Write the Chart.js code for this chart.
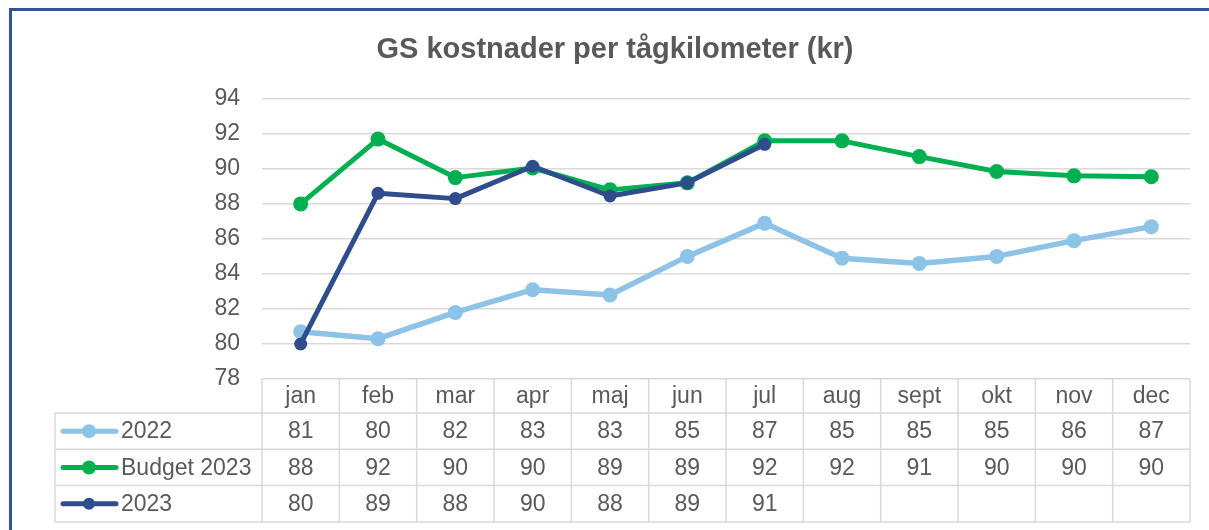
<!DOCTYPE html>
<html lang="sv">
<head>
    <meta charset="UTF-8">
    <title>GS kostnader per tågkilometer</title>
    <style>
        html, body {
            margin: 0;
            padding: 0;
            background: white;
            overflow: hidden;
        }
        #frame {
            position: absolute;
            left: 9px;
            top: 8px;
            width: 1400px;
            height: 700px;
            border: 3px solid #2F5597;
        }
        #wrap {
            position: absolute;
            left: 0;
            top: 0;
            width: 1209px;
            height: 530px;
        }
    </style>
    <script src="https://cdn.jsdelivr.net/npm/chart.js"></script>
</head>
<body>
    <div id="frame"></div>
    <div id="wrap"><canvas id="chart"></canvas></div>
    <script>
        var months = ['jan', 'feb', 'mar', 'apr', 'maj', 'jun', 'jul', 'aug', 'sept', 'okt', 'nov', 'dec'];
        var values2022 = [80.7, 80.3, 81.8, 83.1, 82.8, 85.0, 86.9, 84.9, 84.6, 85.0, 85.9, 86.7];
        var budget2023 = [88.0, 91.7, 89.5, 90.05, 88.8, 89.2, 91.6, 91.6, 90.7, 89.85, 89.6, 89.55];
        var values2023 = [80.0, 88.6, 88.3, 90.15, 88.45, 89.2, 91.4, null, null, null, null, null];
        var yTicks = [78, 80, 82, 84, 86, 88, 90, 92, 94];

        var textColor = '#595959';
        var lineColor = '#D9D9D9';
        var fontFamily = '"Liberation Sans", Arial, sans-serif';

        var series = [
            { label: '2022', data: values2022, color: '#8DC3E7', radius: 7.5, width: 5.5, order: 2 },
            { label: 'Budget 2023', data: budget2023, color: '#00B050', radius: 7.5, width: 5, order: 1 },
            { label: '2023', data: values2023, color: '#2F4D8C', radius: 6.5, width: 5, order: 0 }
        ];

        // data table under the plot, columns follow the x scale
        var dataTable = {
            id: 'dataTable',
            afterDraw: function(chart) {
                var ctx = chart.ctx;
                var x = chart.scales.x;
                var area = chart.chartArea;
                var colW = x.getPixelForValue(1) - x.getPixelForValue(0);
                var legendLeft = 55;
                var top = area.bottom;
                var headH = 34;
                var rowH = 36.3;
                var bottom = top + headH + rowH * series.length;

                ctx.save();
                ctx.strokeStyle = lineColor;
                ctx.lineWidth = 1.5;
                ctx.beginPath();
                // vertical lines of month columns
                for (var i = 0; i <= months.length; i++) {
                    var vx = area.left + i * colW;
                    ctx.moveTo(vx, top);
                    ctx.lineTo(vx, bottom);
                }
                ctx.moveTo(legendLeft, top + headH);
                ctx.lineTo(legendLeft, bottom);
                // horizontal lines
                for (var r = 0; r <= series.length; r++) {
                    var hy = top + headH + r * rowH;
                    ctx.moveTo(legendLeft, hy);
                    ctx.lineTo(area.right, hy);
                }
                ctx.stroke();

                ctx.fillStyle = textColor;
                ctx.font = '23px ' + fontFamily;
                ctx.textAlign = 'center';
                ctx.textBaseline = 'middle';
                months.forEach(function(m, i) {
                    ctx.fillText(m, x.getPixelForValue(i), top + headH / 2 + 1);
                });

                series.forEach(function(s, r) {
                    var cy = top + headH + r * rowH + rowH / 2 + 1;
                    ctx.textAlign = 'center';
                    ctx.fillStyle = textColor;
                    s.data.forEach(function(v, i) {
                        if (v === null) return;
                        ctx.fillText(Math.round(v), x.getPixelForValue(i), cy);
                    });
                    // legend key
                    ctx.strokeStyle = s.color;
                    ctx.lineWidth = 5;
                    ctx.lineCap = 'round';
                    ctx.beginPath();
                    ctx.moveTo(63, cy - 1);
                    ctx.lineTo(116, cy - 1);
                    ctx.stroke();
                    ctx.fillStyle = s.color;
                    ctx.beginPath();
                    ctx.arc(89, cy - 1, s.radius - 0.5, 0, Math.PI * 2);
                    ctx.fill();
                    ctx.fillStyle = textColor;
                    ctx.textAlign = 'left';
                    ctx.fillText(s.label, 121, cy);
                });
                ctx.restore();
            }
        };

        var chart = new Chart(document.getElementById('chart'), {
            type: 'line',
            data: {
                labels: months,
                datasets: series.map(function(s) {
                    return {
                        label: s.label,
                        data: s.data,
                        borderColor: s.color,
                        backgroundColor: s.color,
                        borderWidth: s.width,
                        pointRadius: s.radius,
                        pointHoverRadius: s.radius,
                        pointBorderWidth: 0,
                        borderJoinStyle: 'round',
                        order: s.order,
                        spanGaps: false
                    };
                })
            },
            options: {
                responsive: true,
                maintainAspectRatio: false,
                animation: false,
                layout: {
                    padding: { left: 40, right: 19, top: 0, bottom: 151 }
                },
                plugins: {
                    legend: { display: false },
                    tooltip: { enabled: false },
                    title: {
                        display: true,
                        text: 'GS kostnader per tågkilometer (kr)',
                        color: textColor,
                        font: { family: fontFamily, size: 29, weight: 'bold' },
                        padding: { top: 32.5, bottom: 31.5 }
                    }
                },
                scales: {
                    x: {
                        display: false,
                        offset: true
                    },
                    y: {
                        min: 78,
                        max: 94,
                        afterFit: function(scale) { scale.width = 222; },
                        afterBuildTicks: function(scale) {
                            scale.ticks = yTicks.map(function(v) { return { value: v }; });
                        },
                        border: { display: false },
                        grid: { color: lineColor, lineWidth: 1.5, drawTicks: false },
                        ticks: {
                            color: textColor,
                            padding: 22,
                            font: { family: fontFamily, size: 23 }
                        }
                    }
                }
            },
            plugins: [dataTable]
        });
    </script>
</body>
</html>
